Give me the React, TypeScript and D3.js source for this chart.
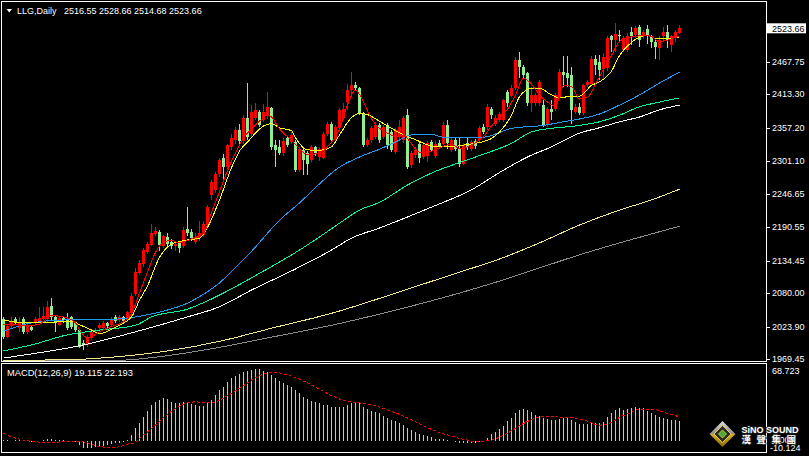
import * as d3 from 'd3';

const W = 809;
const H = 456;

// daily candles, oldest first
const opens = [
  2037, 2007, 2025, 2037, 2021, 2037, 2015, 2023, 2029, 2032,
  2037, 2037, 2059, 2040, 2026, 2038, 2037, 2040, 2029, 2018,
  1997, 1993, 2004, 2016, 2021, 2022, 2029, 2026, 2040, 2035,
  2040, 2035, 2046, 2078, 2114, 2128, 2149, 2160, 2179, 2183,
  2158, 2174, 2166, 2158, 2166, 2158, 2188, 2183, 2166, 2172,
  2177, 2194, 2244, 2252, 2280, 2306, 2292, 2325, 2336, 2353,
  2334, 2373, 2347, 2374, 2384, 2370, 2377, 2390, 2328, 2325,
  2314, 2339, 2333, 2333, 2286, 2320, 2314, 2303, 2325, 2308,
  2307, 2347, 2364, 2336, 2356, 2373, 2400, 2420, 2429, 2423,
  2381, 2328, 2336, 2342, 2362, 2342, 2361, 2350, 2317, 2342,
  2336, 2378, 2294, 2311, 2330, 2308, 2310, 2333, 2310, 2331,
  2330, 2361, 2320, 2336, 2322, 2297, 2331, 2322, 2334, 2336,
  2359, 2358, 2389, 2364, 2370, 2370, 2417, 2411, 2423, 2470,
  2459, 2448, 2398, 2398, 2398, 2395, 2362, 2389, 2389, 2409,
  2450, 2448, 2445, 2384, 2392, 2381, 2428, 2431, 2473, 2468,
  2456, 2457, 2510, 2504, 2512, 2487, 2487, 2518, 2512, 2526,
  2510, 2522, 2510, 2501, 2490, 2510, 2518, 2496, 2507, 2516.55,
];
const highs = [
  2040, 2028, 2040, 2040, 2040, 2040, 2028, 2026, 2040, 2057,
  2057, 2066, 2071, 2042, 2040, 2040, 2046, 2042, 2032, 2020,
  2001, 2009, 2018, 2021, 2029, 2033, 2031, 2040, 2043, 2043,
  2042, 2050, 2080, 2122, 2135, 2155, 2166, 2196, 2190, 2186,
  2178, 2180, 2170, 2166, 2168, 2190, 2224, 2188, 2180, 2200,
  2200, 2228, 2270, 2283, 2306, 2313, 2330, 2347, 2358, 2364,
  2378, 2432, 2395, 2398, 2386, 2396, 2417, 2392, 2336, 2336,
  2339, 2342, 2350, 2336, 2325, 2325, 2318, 2328, 2327, 2325,
  2350, 2367, 2366, 2362, 2390, 2398, 2431, 2451, 2433, 2425,
  2384, 2340, 2360, 2366, 2365, 2362, 2365, 2353, 2356, 2370,
  2376, 2388, 2318, 2324, 2333, 2333, 2335, 2337, 2334, 2336,
  2367, 2370, 2340, 2339, 2339, 2332, 2342, 2336, 2338, 2360,
  2364, 2396, 2392, 2378, 2384, 2406, 2420, 2428, 2475, 2484,
  2462, 2450, 2426, 2416, 2437, 2403, 2392, 2403, 2416, 2455,
  2478, 2478, 2459, 2396, 2398, 2431, 2437, 2478, 2479, 2479,
  2482, 2510, 2512, 2532, 2521, 2510, 2515, 2526, 2528, 2529,
  2521, 2529, 2512, 2504, 2510, 2526, 2529, 2512, 2521, 2528.66,
];
const lows = [
  2003, 2005, 2022, 2026, 2015, 2012, 2012, 2016, 2026, 2030,
  2035, 2032, 2035, 2015, 2024, 2030, 2018, 2020, 2015, 1988,
  1984, 1990, 2001, 2014, 2018, 2019, 2021, 2023, 2030, 2032,
  2030, 2032, 2040, 2075, 2110, 2124, 2145, 2158, 2175, 2150,
  2155, 2158, 2153, 2150, 2147, 2155, 2175, 2168, 2163, 2168,
  2174, 2190, 2236, 2248, 2275, 2269, 2285, 2320, 2330, 2330,
  2330, 2336, 2340, 2370, 2358, 2366, 2372, 2320, 2292, 2311,
  2310, 2324, 2330, 2283, 2283, 2278, 2277, 2300, 2310, 2302,
  2304, 2343, 2333, 2333, 2352, 2370, 2386, 2408, 2418, 2378,
  2325, 2324, 2332, 2338, 2332, 2338, 2322, 2316, 2313, 2338,
  2332, 2288, 2290, 2306, 2298, 2304, 2300, 2316, 2306, 2322,
  2328, 2322, 2316, 2318, 2292, 2294, 2320, 2318, 2322, 2333,
  2346, 2354, 2372, 2360, 2366, 2366, 2392, 2408, 2420, 2440,
  2440, 2394, 2384, 2394, 2394, 2359, 2358, 2370, 2385, 2405,
  2426, 2426, 2364, 2380, 2378, 2378, 2425, 2428, 2445, 2437,
  2437, 2452, 2484, 2484, 2501, 2484, 2484, 2496, 2508, 2493,
  2505, 2498, 2490, 2473, 2470, 2501, 2490, 2484, 2501, 2514.68,
];
const closes = [
  2007, 2025, 2032, 2029, 2032, 2015, 2026, 2018, 2037, 2038,
  2042, 2057, 2040, 2029, 2038, 2034, 2021, 2023, 2018, 1990,
  1993, 2007, 2015, 2018, 2026, 2029, 2024, 2037, 2033, 2040,
  2033, 2048, 2075, 2116, 2130, 2152, 2163, 2180, 2184, 2160,
  2175, 2163, 2159, 2163, 2155, 2186, 2180, 2172, 2174, 2181,
  2196, 2225, 2266, 2280, 2303, 2292, 2328, 2339, 2353, 2334,
  2373, 2342, 2384, 2386, 2362, 2384, 2391, 2325, 2320, 2314,
  2334, 2328, 2345, 2286, 2322, 2303, 2297, 2325, 2314, 2322,
  2347, 2364, 2336, 2358, 2387, 2389, 2420, 2429, 2423, 2381,
  2328, 2336, 2356, 2362, 2336, 2359, 2328, 2320, 2353, 2359,
  2373, 2292, 2314, 2320, 2306, 2328, 2331, 2320, 2330, 2325,
  2361, 2331, 2336, 2322, 2297, 2328, 2325, 2333, 2326, 2356,
  2350, 2392, 2378, 2373, 2380, 2403, 2398, 2423, 2470, 2459,
  2445, 2398, 2412, 2412, 2434, 2362, 2389, 2384, 2412, 2451,
  2446, 2440, 2387, 2392, 2381, 2428, 2434, 2473, 2462, 2454,
  2476, 2507, 2504, 2514, 2510, 2507, 2510, 2510, 2525, 2504,
  2518, 2510, 2501, 2493, 2504, 2518, 2504, 2510, 2518, 2523.66,
];

// moving averages as [bar index, price]
const maRed: [number, number][] = [
  [0, 2028], [3, 2027], [6, 2025], [9, 2028], [12, 2042], [15, 2040], [18, 2030], [19, 2018],
  [21, 2005], [22, 2007], [24, 2015], [27, 2024], [30, 2032], [32, 2045], [34, 2080], [36, 2115],
  [38, 2148], [40, 2165], [42, 2168], [44, 2164], [46, 2168], [48, 2174], [50, 2180], [52, 2215],
  [54, 2250], [56, 2285], [58, 2315], [60, 2340], [62, 2355], [64, 2368], [66, 2378], [67, 2375],
  [69, 2355], [72, 2336], [74, 2322], [76, 2312], [79, 2314], [81, 2325], [84, 2355], [86, 2395],
  [88, 2420], [90, 2400], [92, 2372], [94, 2356], [96, 2348], [98, 2342], [100, 2345], [102, 2330],
  [104, 2316], [106, 2316], [108, 2320], [110, 2326], [112, 2330], [114, 2322], [116, 2325], [118, 2332],
  [120, 2342], [122, 2360], [124, 2374], [126, 2388], [128, 2412], [130, 2440], [132, 2430], [134, 2412],
  [136, 2400], [138, 2393], [140, 2428], [142, 2426], [144, 2405], [146, 2408], [148, 2430], [150, 2455],
  [152, 2478], [154, 2502], [156, 2508], [158, 2510], [160, 2512], [162, 2510], [164, 2501], [166, 2504],
  [168, 2508], [169, 2511],
];
const maYellow: [number, number][] = [
  [0, 2035], [5, 2030], [12, 2031], [17, 2033], [19, 2027], [22, 2018], [24, 2012], [27, 2019],
  [29, 2026], [31, 2034], [32, 2040], [34, 2068], [36, 2092], [39, 2140], [42, 2162], [44, 2166],
  [46, 2169], [49, 2172], [51, 2190], [54, 2236], [57, 2290], [59, 2318], [61, 2333], [63, 2348],
  [65, 2360], [67, 2364], [69, 2357], [72, 2352], [73, 2340], [76, 2320], [79, 2319], [82, 2325],
  [84, 2345], [87, 2374], [89, 2381], [91, 2379], [94, 2368], [97, 2356], [100, 2345], [103, 2337],
  [105, 2331], [108, 2325], [112, 2325], [115, 2328], [118, 2331], [122, 2339], [124, 2350], [127, 2378],
  [129, 2409], [132, 2423], [134, 2423], [137, 2412], [139, 2407], [142, 2410], [144, 2410], [147, 2428],
  [149, 2434], [152, 2452], [154, 2478], [157, 2500], [159, 2509], [161, 2512], [163, 2507], [166, 2507],
  [169, 2508],
];
const maBlue: [number, number][] = [
  [0, 2016], [7, 2030], [16, 2035], [24, 2035], [33, 2040], [39, 2048], [46, 2063], [50, 2078],
  [54, 2097], [58, 2123], [62, 2150], [69, 2202], [74, 2231], [79, 2263], [84, 2291], [89, 2308],
  [94, 2321], [98, 2333], [102, 2345], [107, 2346], [110, 2341], [115, 2340], [120, 2341], [127, 2356],
  [135, 2361], [140, 2367], [145, 2373], [149, 2380], [154, 2395], [159, 2412], [164, 2432], [169, 2450],
];
const maGreen: [number, number][] = [
  [0, 1983], [7, 1993], [16, 2010], [24, 2018], [33, 2026], [37, 2040], [46, 2053], [52, 2070],
  [57, 2087], [64, 2113], [74, 2152], [79, 2174], [84, 2197], [89, 2219], [94, 2232], [101, 2261],
  [107, 2281], [118, 2308], [127, 2331], [132, 2350], [137, 2356], [143, 2360], [149, 2367], [154, 2378],
  [159, 2392], [164, 2400], [169, 2407],
];
const maWhite: [number, number][] = [
  [0, 1971], [5, 1976], [20, 1993], [33, 2015], [46, 2040], [54, 2057], [62, 2085], [72, 2117],
  [82, 2152], [87, 2172], [94, 2189], [107, 2224], [117, 2253], [125, 2286], [131, 2308], [137, 2325],
  [144, 2348], [149, 2357], [154, 2367], [159, 2375], [164, 2387], [169, 2395],
];
const maKhaki: [number, number][] = [
  [0, 1967], [19, 1969], [28, 1973], [42, 1984], [54, 1999], [67, 2021], [82, 2046], [99, 2082],
  [114, 2115], [124, 2137], [134, 2164], [144, 2194], [154, 2219], [162, 2236], [169, 2254],
];
const maGray: [number, number][] = [
  [0, 1966], [28, 1967], [42, 1976], [54, 1989], [67, 2006], [82, 2026], [99, 2053], [114, 2080],
  [124, 2100], [134, 2122], [144, 2144], [154, 2164], [162, 2179], [169, 2192],
];

// MACD main (histogram), one per bar
const macdMain = [
  1, 0.5, 0.3, 0.5, 0.8, 0.3, -0.5, -1, -0.5, 0,
  0.8, 1.5, 1.8, 1, 0.5, 0.5, 0, -0.5, -1.5, -4,
  -6.5, -7, -6.5, -6, -5, -4.5, -4, -3.2, -2.3, -1.6,
  -1, 0.8, 5.5, 11.8, 16.6, 23, 28.7, 34, 37.2, 38.8,
  40.4, 39.4, 37.2, 36.2, 36.2, 37.2, 36.2, 35, 34, 33.1,
  33.1, 35.6, 38.8, 43.6, 48.3, 51.5, 56.2, 59.4, 62, 63.3,
  65.5, 66.3, 67.6, 68.5, 67.8, 66.3, 65, 62.5, 59.5, 57.3,
  55, 53, 51, 48, 45, 42, 39.5, 37.5, 36.5, 35.5,
  34.5, 34, 32.5, 32, 32, 32.5, 34, 36, 36.5, 35.5,
  32.5, 30, 28, 27, 26, 24, 22, 20, 18.5, 16.5,
  15.5, 12.5, 10.5, 8.5, 6.5, 5.2, 4.2, 3.2, 2.2, 2,
  2, 1, 0, -1, -2.2, -2.2, -2, -2, -1.6, -1,
  0, 3, 6.3, 8.5, 11.5, 14.5, 19, 22, 26, 29,
  30.5, 29.5, 27, 25, 24, 22, 21, 20, 20, 21,
  22, 22, 20, 18, 16, 16, 16, 17, 17, 17,
  18.2, 23, 26.8, 29.3, 31.5, 29.3, 30, 31.5, 31.9, 30.8,
  30.8, 28.7, 26.8, 24.5, 22.5, 21.3, 20.5, 20, 19.6, 19.115,
];
const macdSignal: [number, number][] = [
  [0, 7], [2, 3.9], [4, 1.6], [8, -0.9], [12, -1.6], [16, -0.6], [19, -0.6], [22, -3.1],
  [24, -5.4], [27, -6.3], [29, -5.7], [31, -3.1], [33, -1.6], [34, 2.5], [36, 8.5], [38, 15],
  [40, 22], [42, 28], [44, 33], [46, 36], [48, 37], [50, 36.5], [52, 36.2], [54, 38.5],
  [56, 42.8], [58, 47.5], [60, 52.3], [62, 57.7], [64, 62], [66, 64.5], [68, 65], [70, 63.5],
  [73, 60], [76, 55], [79, 49], [82, 43], [85, 38.5], [88, 36.5], [91, 35], [94, 32],
  [97, 28], [100, 23.5], [103, 18], [106, 12.5], [109, 8], [112, 4.5], [115, 1.5], [118, -0.5],
  [121, 0], [124, 3.5], [127, 9.5], [130, 16.5], [133, 21.5], [136, 23.5], [139, 22.5], [142, 22],
  [145, 20], [149, 15], [152, 17.5], [154, 22.3], [157, 27], [159, 30.2], [162, 30.2], [164, 28.6],
  [166, 26], [168, 24], [169, 22.193],
];

const priceTicks = [2467.75, 2413.3, 2357.2, 2301.1, 2246.65, 2190.55, 2134.45, 2080.0, 2023.9, 1969.45];
const lastPrice = 2523.66;
const symbolText = 'LLG,Daily';
const ohlcText = '2516.55 2528.66 2514.68 2523.66';
const macdText = 'MACD(12,26,9) 19.115 22.193';
const macdMax = 68.723;
const macdMin = -10.124;

const UP = '#ff0000';
const DOWN = '#90ee90';
const FONT = '"Liberation Sans", Arial, sans-serif';

export default function App() {
  const x = d3.scaleLinear().domain([0, 169]).range([3.5, 679.5]);
  const y = d3.scaleLinear().domain([1969.45, 2523.66]).range([359, 28.3]);
  const ym = d3.scaleLinear().domain([macdMin, macdMax]).range([451.5, 368.5]);
  const fmt = d3.format('.2f');

  const line = d3.line<[number, number]>()
    .x(d => x(d[0]))
    .y(d => y(d[1]))
    .curve(d3.curveMonotoneX);
  const sigLine = d3.line<[number, number]>()
    .x(d => x(d[0]))
    .y(d => ym(d[1]))
    .curve(d3.curveMonotoneX);

  const mas: [[number, number][], string][] = [
    [maGray, '#8c8c8c'],
    [maKhaki, '#f0e68c'],
    [maWhite, '#ffffff'],
    [maGreen, '#00fa9a'],
    [maBlue, '#1e9bf0'],
    [maYellow, '#ffff00'],
    [maRed, '#ff0000'],
  ];

  const zero = ym(0);

  return (
    <div style={{ position: 'fixed', left: 0, top: 0, width: W, height: H, background: '#000' }}>
      <svg width={W} height={H} style={{ display: 'block', background: '#000' }}>
        <defs>
          <clipPath id="mainClip">
            <rect x={2} y={2} width={764} height={359} />
          </clipPath>
          <clipPath id="macdClip">
            <rect x={2} y={364} width={764} height={88} />
          </clipPath>
          <linearGradient id="wmFill" x1="0" y1="0" x2="0" y2="1">
            <stop offset="0" stopColor="#e0e0e0" />
            <stop offset="0.5" stopColor="#8a8a8a" />
            <stop offset="0.5" stopColor="#d8b030" />
            <stop offset="1" stopColor="#8a6a08" />
          </linearGradient>
        </defs>

        {/* candles */}
        <g clipPath="url(#mainClip)" shapeRendering="crispEdges">
          {closes.map((c, i) => {
            const o = opens[i];
            const col = c >= o ? UP : DOWN;
            const cx = x(i);
            const top = y(Math.max(o, c));
            const bot = y(Math.min(o, c));
            return (
              <g key={i}>
                <line x1={cx} x2={cx} y1={y(highs[i])} y2={y(lows[i])} stroke={col} />
                <rect x={cx - 1.5} y={top} width={3} height={Math.max(1, bot - top)} fill={col} />
              </g>
            );
          })}
        </g>

        {/* moving averages */}
        <g clipPath="url(#mainClip)" fill="none" shapeRendering="crispEdges">
          {mas.map(([d, col], k) => (
            <path key={k} d={line(d) || ''} stroke={col} strokeWidth={1} />
          ))}
        </g>

        {/* title */}
        <polygon points="6.5,9 12,9 9.25,12.5" fill="#fff" />
        <text x={17} y={14} fill="#fff" fontFamily={FONT} fontSize={9}>{symbolText}</text>
        <text x={64} y={14} fill="#fff" fontFamily={FONT} fontSize={9}>{ohlcText}</text>

        {/* MACD window */}
        <g clipPath="url(#macdClip)">
          <g shapeRendering="crispEdges">
            {macdMain.map((v, i) => (
              <line key={i} x1={x(i)} x2={x(i)} y1={zero} y2={ym(v)} stroke="#c8c8c8" />
            ))}
          </g>
          <path d={sigLine(macdSignal) || ''} fill="none" stroke="#ff0000" strokeWidth={1}
            strokeDasharray="3 2" shapeRendering="crispEdges" />
        </g>
        <text x={7} y={376} fill="#fff" fontFamily={FONT} fontSize={9.3}>{macdText}</text>

        {/* frames */}
        <g fill="none" stroke="#fff" shapeRendering="crispEdges">
          <rect x={1.5} y={1.5} width={765} height={360} />
          <rect x={1.5} y={363.5} width={765} height={89} />
        </g>

        {/* price axis */}
        <g fontFamily={FONT} fontSize={9} fill="#fff">
          {priceTicks.map(v => (
            <g key={v}>
              <line x1={766.5} x2={769.5} y1={Math.round(y(v)) + 0.5} y2={Math.round(y(v)) + 0.5} stroke="#fff" shapeRendering="crispEdges" />
              <text x={772} y={y(v) + 3.2}>{fmt(v)}</text>
            </g>
          ))}
          <rect x={767} y={y(lastPrice) - 5} width={39} height={10} fill="#fff" />
          <text x={772} y={y(lastPrice) + 3.2} fill="#000">{fmt(lastPrice)}</text>
          <text x={772} y={373.5}>{macdMax.toFixed(3)}</text>
          <text x={772} y={443}>0.00</text>
          <text x={770} y={451}>{macdMin.toFixed(3)}</text>
        </g>

        {/* watermark */}
        <g>
          <polygon points="722.5,421 735.5,434 722.5,447 709.5,434" fill="url(#wmFill)" />
          <polygon points="722.5,425.5 731,434 722.5,442.5 714,434" fill="#2b2b22" stroke="#e8c840" strokeWidth={1} />
          <polygon points="722.5,430 726.5,434 722.5,438 718.5,434" fill="#4aa838" stroke="#d0e040" strokeWidth={0.8} />
          <text x={741.5} y={432.5} fill="#fff" stroke="#222" strokeWidth={1.5} paintOrder="stroke"
            fontFamily={FONT} fontWeight="bold" fontSize={9}>SiNO SOUND</text>
          <text x={741.5} y={442.8} fill="#fff" stroke="#222" strokeWidth={1.5} paintOrder="stroke"
            fontFamily='"Noto Sans CJK TC", "Noto Sans CJK SC", sans-serif' fontWeight="bold" fontSize={9.5}
            letterSpacing={5.5}>漢聲集團</text>
        </g>
      </svg>
    </div>
  );
}
